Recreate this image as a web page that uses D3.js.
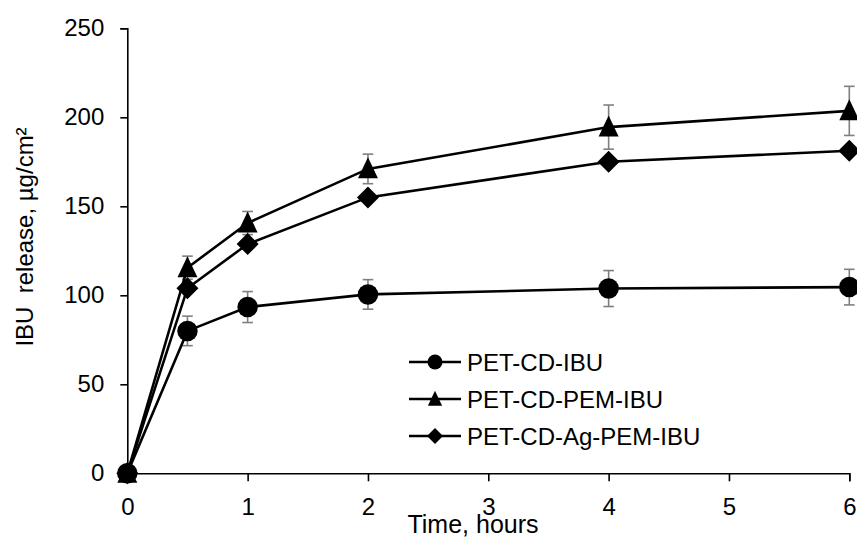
<!DOCTYPE html>
<html><head><meta charset="utf-8">
<script src="https://cdn.jsdelivr.net/npm/d3@7"></script>
<style>html,body{margin:0;padding:0;background:#fff}svg{display:block}text{font-family:"Liberation Sans",Arial,sans-serif;fill:#000}</style>
</head><body>
<script>
const times = [0, 0.5, 1, 2, 4, 6];
const seriesNames = ["PET-CD-IBU", "PET-CD-PEM-IBU", "PET-CD-Ag-PEM-IBU"];
const ibuValues = [0, 80, 93.4, 100.5, 103.8, 104.6];
const ibuErrors = [0, 8.3, 8.7, 8.3, 10.1, 10];
const pemValues = [0, 115.5, 140.6, 171, 194.5, 203.6];
const pemErrors = [0, 6.5, 6.5, 8.3, 12.4, 13.8];
const agValues = [0, 104, 128.8, 155, 175, 181.2];
const agErrors = [0, 2, 2, 2, 2, 2];
const xTicks = [0, 1, 2, 3, 4, 5, 6];
const yTicks = [0, 50, 100, 150, 200, 250];
const markers = ["circle", "triangle", "diamond"];

const W = 857, H = 538;
const svg = d3.select("body").append("svg").attr("width", W).attr("height", H);
const x = d3.scaleLinear().domain([0, 6]).range([127.3, 849.3]);
const y = d3.scaleLinear().domain([0, 250]).range([473.3, 28.3]);

// axes
const xAxis = svg.append("g").attr("transform", `translate(0,${y(0)})`)
  .call(d3.axisBottom(x).tickValues(xTicks).tickFormat(d3.format("d")).tickSize(8).tickPadding(17));
const yAxis = svg.append("g").attr("transform", `translate(${x(0)},0)`)
  .call(d3.axisLeft(y).tickValues(yTicks).tickSize(7).tickPadding(16));
[xAxis, yAxis].forEach(g => {
  g.select(".domain").attr("stroke", "#000").attr("stroke-width", 1.6);
  g.selectAll(".tick line").attr("stroke", "#000").attr("stroke-width", 1.6);
  g.selectAll(".tick text").attr("font-size", 24).attr("font-family", '"Liberation Sans",Arial,sans-serif').attr("fill", "#000");
});
xAxis.selectAll(".tick text").attr("dy", "0.71em");

svg.append("text").attr("x", 473).attr("y", 533).attr("text-anchor", "middle")
  .attr("font-size", 25).text("Time, hours");
svg.append("text").attr("transform", "translate(33,237) rotate(-90)").attr("text-anchor", "middle")
  .attr("font-size", 24).style("white-space", "pre").text("IBU  release, µg/cm²");

const data = [
  {name: seriesNames[0], vals: ibuValues, errs: ibuErrors, m: markers[0]},
  {name: seriesNames[1], vals: pemValues, errs: pemErrors, m: markers[1]},
  {name: seriesNames[2], vals: agValues, errs: agErrors, m: markers[2]}
];

function drawMarker(g, type, cx, cy, s) {
  if (type === "circle") {
    g.append("circle").attr("cx", cx).attr("cy", cy).attr("r", s / 2).attr("fill", "#000");
  } else if (type === "triangle") {
    const h = s, w = s * 0.95;
    g.append("path").attr("d", `M${cx},${cy - h * 0.55}L${cx + w / 2},${cy + h * 0.45}L${cx - w / 2},${cy + h * 0.45}Z`).attr("fill", "#000");
  } else {
    const r = s / 2;
    g.append("path").attr("d", `M${cx},${cy - r}L${cx + r},${cy}L${cx},${cy + r}L${cx - r},${cy}Z`).attr("fill", "#000");
  }
}

const line = d3.line().x(d => x(d[0])).y(d => y(d[1]));
// error bars
data.forEach(s => {
  const g = svg.append("g");
  times.forEach((t, i) => {
    if (!s.errs[i]) return;
    const cx = x(t), y1 = y(s.vals[i] + s.errs[i]), y2 = y(s.vals[i] - s.errs[i]);
    g.append("line").attr("x1", cx).attr("x2", cx).attr("y1", y1).attr("y2", y2).attr("stroke", "#7f7f7f").attr("stroke-width", 1.6);
    [y1, y2].forEach(yy => g.append("line").attr("x1", cx - 5.3).attr("x2", cx + 5.3).attr("y1", yy).attr("y2", yy).attr("stroke", "#7f7f7f").attr("stroke-width", 1.6));
  });
});
data.forEach(s => {
  svg.append("path").datum(times.map((t, i) => [t, s.vals[i]])).attr("d", line)
    .attr("fill", "none").attr("stroke", "#000").attr("stroke-width", 2.6);
});
data.forEach(s => {
  const g = svg.append("g");
  times.forEach((t, i) => drawMarker(g, s.m, x(t), y(s.vals[i]), s.m === "diamond" ? 22 : (s.m === "triangle" ? 21 : 20.5)));
});

// legend
const legY = [362, 399, 436];
data.forEach((s, i) => {
  const g = svg.append("g");
  g.append("line").attr("x1", 409).attr("x2", 461).attr("y1", legY[i]).attr("y2", legY[i]).attr("stroke", "#000").attr("stroke-width", 2.6);
  drawMarker(g, s.m, 435, legY[i], s.m === "diamond" ? 16 : 15);
  g.append("text").attr("x", 467).attr("y", legY[i]).attr("dy", "0.36em").attr("font-size", 24).text(s.name);
});
</script>
</body></html>
